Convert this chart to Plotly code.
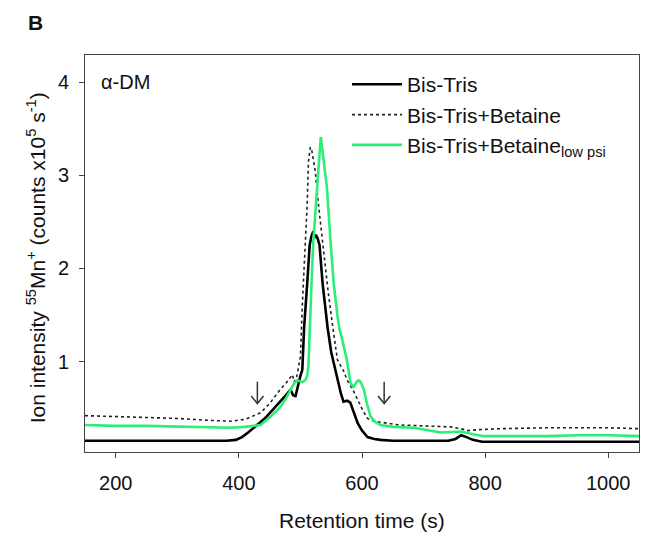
import plotly.graph_objects as go

# ---------------- data ----------------
bt_x = [150, 200, 250, 300, 350, 380, 395, 405, 415, 425, 435, 445, 455, 467, 475, 484, 488, 492,
        496, 500, 503, 506, 511, 515, 518, 521, 523, 525, 528, 531, 536, 544, 550, 557, 562, 566,
        570, 576, 581, 587, 593, 600, 609, 620, 630, 650, 700, 740, 752, 761, 770, 780, 795, 850,
        900, 950, 1000, 1050]
bt_y = [0.15, 0.15, 0.15, 0.15, 0.15, 0.15, 0.16, 0.19, 0.24, 0.29, 0.35, 0.41, 0.48, 0.57, 0.63, 0.70, 0.64, 0.63,
        0.75, 0.85, 0.91, 1.37, 1.84, 2.25, 2.35, 2.40, 2.33, 2.36, 2.32, 2.25, 1.84, 1.37, 1.10, 0.91, 0.75, 0.65,
        0.57, 0.58, 0.56, 0.45, 0.34, 0.26, 0.19, 0.17, 0.16, 0.15, 0.15, 0.15, 0.17, 0.21, 0.19, 0.16, 0.14, 0.14,
        0.135, 0.14, 0.14, 0.14]

btb_x = [150, 200, 250, 300, 350, 386, 410, 435, 450, 467, 478, 484, 487, 490, 494, 497, 500, 503,
         508, 511, 513, 516, 518, 521, 524, 529, 537, 545, 552, 560, 570, 576, 585, 593, 601, 609,
         620, 630, 660, 700, 744, 760, 772, 790, 826, 900, 950, 1000, 1050]
btb_y = [0.42, 0.41, 0.40, 0.39, 0.37, 0.36, 0.38, 0.45, 0.55, 0.70, 0.78, 0.84, 0.86, 0.78, 0.84, 0.95, 1.05, 1.60,
         2.25, 2.70, 3.15, 3.30, 3.28, 3.15, 3.05, 2.70, 2.20, 1.75, 1.40, 1.02, 0.90, 0.80, 0.70, 0.59, 0.48, 0.39,
         0.36, 0.35, 0.32, 0.31, 0.30, 0.28, 0.26, 0.27, 0.28, 0.29, 0.29, 0.29, 0.28]

lp_x = [150, 200, 250, 300, 350, 386, 410, 435, 450, 467, 476, 484, 490, 495, 503, 508, 511, 513,
        515, 518, 521, 527, 533, 537, 543, 549, 554, 560, 563, 567, 571, 575, 578, 581, 586, 590,
        594, 598, 603, 608, 614, 622, 630, 650, 684, 700, 728, 761, 780, 798, 850, 900, 950, 1000, 1050]
lp_y = [0.32, 0.31, 0.31, 0.30, 0.29, 0.29, 0.30, 0.32, 0.40, 0.51, 0.60, 0.70, 0.77, 0.80, 0.78, 0.80, 0.85, 0.95,
        1.37, 1.84, 2.30, 2.85, 3.41, 3.20, 2.87, 2.28, 1.84, 1.50, 1.36, 1.26, 1.15, 1.03, 0.91, 0.78, 0.72, 0.77,
        0.80, 0.78, 0.70, 0.55, 0.41, 0.35, 0.32, 0.30, 0.29, 0.27, 0.24, 0.25, 0.22, 0.20, 0.20, 0.20, 0.21, 0.21, 0.20]

series_names = ["Bis-Tris", "Bis-Tris+Betaine", "Bis-Tris+Betaine<sub>low psi</sub>"]
x_ticks = [200, 400, 600, 800, 1000]
y_ticks = [1, 2, 3, 4]
arrow_x = [430, 636]

FONT = "Arial, Liberation Sans, sans-serif"
GREEN = "#2BEE78"

fig = go.Figure()
fig.add_trace(go.Scatter(x=bt_x, y=bt_y, mode="lines", name=series_names[0],
                         line=dict(color="black", width=2.6)))
fig.add_trace(go.Scatter(x=btb_x, y=btb_y, mode="lines", name=series_names[1],
                         line=dict(color="#222222", width=1.6, dash="dot")))
fig.add_trace(go.Scatter(x=lp_x, y=lp_y, mode="lines", name=series_names[2],
                         line=dict(color=GREEN, width=2.6)))

# arrows marking the collection window
for ax_ in arrow_x:
    dx = 10
    fig.add_shape(type="line", xref="x", yref="y", x0=ax_, x1=ax_, y0=0.785, y1=0.55,
                  line=dict(color="#333333", width=1.5))
    fig.add_shape(type="path", xref="x", yref="y",
                  path=f"M {ax_-dx},0.63 L {ax_},0.55 L {ax_+dx},0.63",
                  line=dict(color="#333333", width=1.5))

annots = [
    dict(text="α-DM", x=172, y=4.0, xref="x", yref="y", showarrow=False,
         xanchor="left", yanchor="middle", font=dict(family=FONT, size=20, color="#111")),
    dict(text="<b>B</b>", x=-0.09, y=1.083, xref="paper", yref="paper", showarrow=False,
         xanchor="center", yanchor="middle", font=dict(family=FONT, size=21, color="#111")),
    dict(text="Retention time (s)", x=0.5, y=-0.173, xref="paper", yref="paper",
         xanchor="center", yanchor="middle", showarrow=False,
         font=dict(family=FONT, size=21, color="#111")),
    dict(text="Ion intensity <sup>55</sup>Mn<sup>+</sup> (counts x10<sup>5</sup> s<sup>-1</sup>)",
         x=-0.087, y=0.49, xref="paper", yref="paper", textangle=-90,
         xanchor="center", yanchor="middle", showarrow=False,
         font=dict(family=FONT, size=21, color="#111")),
]

# page body has an 8px margin, so the figure is made 8px smaller and shifted margins
fig.update_layout(
    width=646, height=529,
    margin=dict(l=77, r=15, t=47, b=85),
    paper_bgcolor="white", plot_bgcolor="white",
    font=dict(family=FONT, size=20, color="#111"),
    showlegend=True,
    legend=dict(x=0.473, y=0.977, xanchor="left", yanchor="top",
                bgcolor="rgba(0,0,0,0)", font=dict(family=FONT, size=21, color="#111"),
                tracegroupgap=0, itemwidth=50),
    annotations=annots,
)

fig.update_xaxes(range=[150, 1050], tickvals=x_ticks, ticks="outside", ticklen=5, tickwidth=1,
                 tickcolor="#444", showline=True, linecolor="#444", linewidth=1, mirror=True,
                 showgrid=False, zeroline=False, ticklabelstandoff=8,
                 tickfont=dict(family=FONT, size=20, color="#111"))
fig.update_yaxes(range=[0.03, 4.29], tickvals=y_ticks, ticks="outside", ticklen=5, tickwidth=1,
                 tickcolor="#444", showline=True, linecolor="#444", linewidth=1, mirror=True,
                 showgrid=False, zeroline=False, ticklabelstandoff=6,
                 tickfont=dict(family=FONT, size=20, color="#111"))

fig.write_html("out.html")
